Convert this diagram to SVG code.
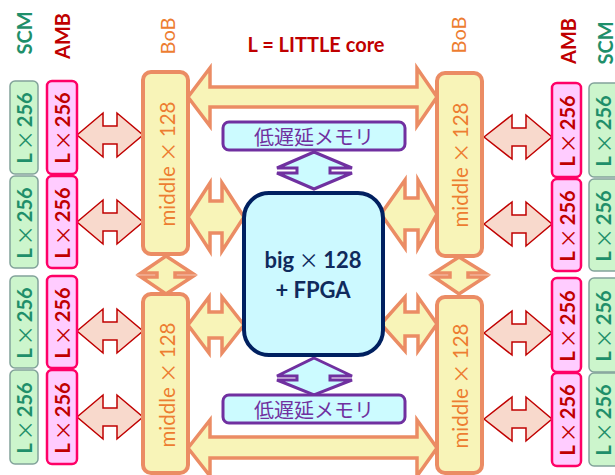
<svg xmlns="http://www.w3.org/2000/svg" width="615" height="475" viewBox="0 0 615 475">
<style>
text{font-family:Lato,"Liberation Sans","Noto Sans CJK JP",sans-serif}
.scm{fill:#ccf5cc;stroke:#82a39a;stroke-width:1.5}
.amb{fill:#ffccff;stroke:#ff0066;stroke-width:2.5}
.scmt{fill:#1f8f6a;font-size:20px;font-weight:bold}
.ambt{fill:#c00000;font-size:20px;font-weight:bold}
.x{font-weight:normal;font-family:"Noto Sans CJK JP",sans-serif;font-size:20px}
.bob{fill:#f8f4b8;stroke:#eb8c64;stroke-width:4}
.bobt{fill:#ed7d31;font-size:20.5px}
.ya{fill:#f8f4b8;stroke:#eb8c64;stroke-width:3.5;stroke-linejoin:miter}
.ra{fill:#f8d9cc;stroke:#c00000;stroke-width:1.5}
.pa{fill:#ccfbff;stroke:#7030a0;stroke-width:3}
.mem{fill:#ccfbff;stroke:#7030a0;stroke-width:3}
.memt{fill:#7030a0;font-size:20px;font-family:"Noto Sans CJK JP",sans-serif}
.hdr{font-size:20px;font-weight:bold}
</style>

<text x="316" y="52" text-anchor="middle" class="hdr" fill="#c00000">L = LITTLE core</text>

<g id="labels">
<text transform="translate(24,33) rotate(-90)" text-anchor="middle" dominant-baseline="central" class="hdr" fill="#1f8f6a">SCM</text>
<text transform="translate(62,36) rotate(-90)" text-anchor="middle" dominant-baseline="central" class="hdr" fill="#c00000">AMB</text>
<text transform="translate(167,36) rotate(-90)" text-anchor="middle" dominant-baseline="central" font-size="20" fill="#ed7d31">BoB</text>
<text transform="translate(458,35) rotate(-90)" text-anchor="middle" dominant-baseline="central" font-size="20" fill="#ed7d31">BoB</text>
<text transform="translate(568,41) rotate(-90)" text-anchor="middle" dominant-baseline="central" class="hdr" fill="#c00000">AMB</text>
<text transform="translate(605,43) rotate(-90)" text-anchor="middle" dominant-baseline="central" class="hdr" fill="#1f8f6a">SCM</text>
</g>

<g id="connectors">
<polygon class="ya" points="188,97 210,68 210,87 417,87 417,68 437,97 417,126 417,107 210,107 210,126"/>
<polygon class="ya" points="188,448 210,420 210,437 417,437 417,420 437,448 417,476 417,458 210,458 210,476"/>
<polygon class="ya" points="188,217 210,183 210,201 222,201 222,183 244,217 222,251 222,233 210,233 210,251"/>
<polygon class="ya" points="188,325 209,297 209,312 222,312 222,297 244,325 222,353 222,338 209,338 209,353"/>
<polygon class="ya" points="381,214 405,180 405,198 418,198 418,180 437,214 418,248 418,230 405,230 405,248"/>
<polygon class="ya" points="381,324 405,297 405,312 418,312 418,297 437,324 418,351 418,336 405,336 405,351"/>
<polygon class="ya" points="166,256 192,273 175,273 175,277 192,277 166,294 141,277 157,277 157,273 141,273"/>
<polygon class="ya" points="459,257 485,273 468,273 468,277 485,277 459,294 434,277 450,277 450,273 434,273"/>
<polygon class="ra" points="77,135 103,113 103,126 117,126 117,113 143,135 117,157 117,144 103,144 103,157"/>
<polygon class="ra" points="77,222 103,200 103,213 117,213 117,200 143,222 117,244 117,231 103,231 103,244"/>
<polygon class="ra" points="77,331 103,309 103,322 117,322 117,309 143,331 117,353 117,340 103,340 103,353"/>
<polygon class="ra" points="77,417 103,395 103,408 117,408 117,395 143,417 117,439 117,426 103,426 103,439"/>
<polygon class="ra" points="484,137 512,115 512,128 526,128 526,115 552,137 526,159 526,146 512,146 512,159"/>
<polygon class="ra" points="484,224 512,202 512,215 526,215 526,202 552,224 526,246 526,233 512,233 512,246"/>
<polygon class="ra" points="484,333 512,311 512,324 526,324 526,311 552,333 526,355 526,342 512,342 512,355"/>
<polygon class="ra" points="484,419 512,397 512,410 526,410 526,397 552,419 526,441 526,428 512,428 512,441"/>
<polygon class="pa" points="314,152 352,168 330,168 330,173 352,173 314,189 277,173 297,173 297,168 277,168"/>
<polygon class="pa" points="314,358 352,376 330,376 330,380 352,380 314,395 277,380 297,380 297,376 277,376"/>
</g>

<g id="scm-left">
<rect class="scm" x="10" y="81" width="28" height="93" rx="5"/>
<rect class="scm" x="10" y="176" width="28" height="92" rx="5"/>
<rect class="scm" x="10" y="276" width="28" height="92" rx="5"/>
<rect class="scm" x="10" y="370" width="28" height="94" rx="5"/>
<text transform="translate(24,128) rotate(-90)" text-anchor="middle" dominant-baseline="central" class="scmt">L<tspan class="x" dx="3">×</tspan><tspan dx="3">256</tspan></text>
<text transform="translate(24,223) rotate(-90)" text-anchor="middle" dominant-baseline="central" class="scmt">L<tspan class="x" dx="3">×</tspan><tspan dx="3">256</tspan></text>
<text transform="translate(24,323) rotate(-90)" text-anchor="middle" dominant-baseline="central" class="scmt">L<tspan class="x" dx="3">×</tspan><tspan dx="3">256</tspan></text>
<text transform="translate(24,418) rotate(-90)" text-anchor="middle" dominant-baseline="central" class="scmt">L<tspan class="x" dx="3">×</tspan><tspan dx="3">256</tspan></text>
</g>

<g id="amb-left">
<rect class="amb" x="47" y="81" width="30" height="93" rx="5"/>
<rect class="amb" x="47" y="176" width="30" height="92" rx="5"/>
<rect class="amb" x="47" y="276" width="30" height="92" rx="5"/>
<rect class="amb" x="47" y="370" width="30" height="94" rx="5"/>
<text transform="translate(62,128) rotate(-90)" text-anchor="middle" dominant-baseline="central" class="ambt">L<tspan class="x" dx="3">×</tspan><tspan dx="3">256</tspan></text>
<text transform="translate(62,223) rotate(-90)" text-anchor="middle" dominant-baseline="central" class="ambt">L<tspan class="x" dx="3">×</tspan><tspan dx="3">256</tspan></text>
<text transform="translate(62,323) rotate(-90)" text-anchor="middle" dominant-baseline="central" class="ambt">L<tspan class="x" dx="3">×</tspan><tspan dx="3">256</tspan></text>
<text transform="translate(62,418) rotate(-90)" text-anchor="middle" dominant-baseline="central" class="ambt">L<tspan class="x" dx="3">×</tspan><tspan dx="3">256</tspan></text>
</g>

<g id="bob-left-top">
<rect class="bob" x="143" y="72" width="45" height="182" rx="8"/>
<text transform="translate(167,164) rotate(-90)" text-anchor="middle" dominant-baseline="central" class="bobt">middle<tspan class="x" font-size="20.5"> × </tspan>128</text>
</g>
<g id="bob-left-bottom">
<rect class="bob" x="143" y="294" width="45" height="179" rx="8"/>
<text transform="translate(167,385) rotate(-90)" text-anchor="middle" dominant-baseline="central" class="bobt">middle<tspan class="x" font-size="20.5"> × </tspan>128</text>
</g>
<g id="bob-right-top">
<rect class="bob" x="437" y="73" width="45" height="183" rx="8"/>
<text transform="translate(460,165) rotate(-90)" text-anchor="middle" dominant-baseline="central" class="bobt">middle<tspan class="x" font-size="20.5"> × </tspan>128</text>
</g>
<g id="bob-right-bottom">
<rect class="bob" x="437" y="297" width="45" height="176" rx="8"/>
<text transform="translate(460,386) rotate(-90)" text-anchor="middle" dominant-baseline="central" class="bobt">middle<tspan class="x" font-size="20.5"> × </tspan>128</text>
</g>

<g id="mem-top">
<rect class="mem" x="223" y="122" width="182" height="28" rx="6"/>
<text x="314" y="136" text-anchor="middle" dominant-baseline="central" class="memt">低遅延メモリ</text>
</g>
<g id="mem-bottom">
<rect class="mem" x="223" y="395" width="182" height="28" rx="6"/>
<text x="314" y="409" text-anchor="middle" dominant-baseline="central" class="memt">低遅延メモリ</text>
</g>

<g id="center">
<rect x="244" y="193" width="139" height="162" rx="25" fill="#ccf9ff" stroke="#002060" stroke-width="4"/>
<text x="313" y="268" text-anchor="middle" font-size="22" font-weight="bold" fill="#0f2a5c">big<tspan class="x" font-size="23"> × </tspan>128</text>
<text x="313" y="298" text-anchor="middle" font-size="22" font-weight="bold" fill="#0f2a5c">+ FPGA</text>
</g>

<g id="amb-right">
<rect class="amb" x="552" y="83" width="29" height="94" rx="5"/>
<rect class="amb" x="552" y="179" width="29" height="92" rx="5"/>
<rect class="amb" x="552" y="278" width="29" height="94" rx="5"/>
<rect class="amb" x="552" y="373" width="29" height="93" rx="5"/>
<text transform="translate(567,131) rotate(-90)" text-anchor="middle" dominant-baseline="central" class="ambt">L<tspan class="x" dx="3">×</tspan><tspan dx="3">256</tspan></text>
<text transform="translate(567,226) rotate(-90)" text-anchor="middle" dominant-baseline="central" class="ambt">L<tspan class="x" dx="3">×</tspan><tspan dx="3">256</tspan></text>
<text transform="translate(567,326) rotate(-90)" text-anchor="middle" dominant-baseline="central" class="ambt">L<tspan class="x" dx="3">×</tspan><tspan dx="3">256</tspan></text>
<text transform="translate(567,420) rotate(-90)" text-anchor="middle" dominant-baseline="central" class="ambt">L<tspan class="x" dx="3">×</tspan><tspan dx="3">256</tspan></text>
</g>

<g id="scm-right">
<rect class="scm" x="589" y="83" width="30" height="94" rx="5"/>
<rect class="scm" x="589" y="179" width="30" height="92" rx="5"/>
<rect class="scm" x="589" y="278" width="30" height="94" rx="5"/>
<rect class="scm" x="589" y="373" width="30" height="93" rx="5"/>
<text transform="translate(603,131) rotate(-90)" text-anchor="middle" dominant-baseline="central" class="scmt">L<tspan class="x" dx="3">×</tspan><tspan dx="3">256</tspan></text>
<text transform="translate(603,226) rotate(-90)" text-anchor="middle" dominant-baseline="central" class="scmt">L<tspan class="x" dx="3">×</tspan><tspan dx="3">256</tspan></text>
<text transform="translate(603,326) rotate(-90)" text-anchor="middle" dominant-baseline="central" class="scmt">L<tspan class="x" dx="3">×</tspan><tspan dx="3">256</tspan></text>
<text transform="translate(603,420) rotate(-90)" text-anchor="middle" dominant-baseline="central" class="scmt">L<tspan class="x" dx="3">×</tspan><tspan dx="3">256</tspan></text>
</g>
</svg>
